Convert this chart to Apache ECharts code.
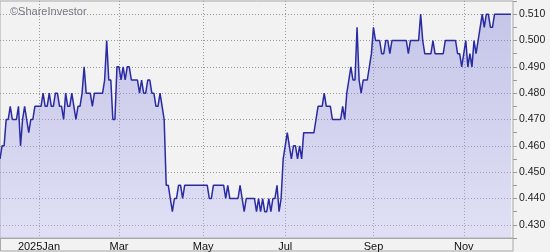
<!DOCTYPE html>
<html>
<head>
<meta charset="utf-8">
<script src="https://cdn.jsdelivr.net/npm/echarts@6/dist/echarts.min.js"></script>
<style>
html,body{margin:0;padding:0;background:#f2f2f2;}
#c{width:550px;height:252px;}
</style>
</head>
<body>
<div id="c"></div>
<script>
// Daily closing prices (trading days)
const prices = [
0.455,0.460,0.460,0.470,0.470,0.475,0.470,0.470,0.470,0.475,
0.460,0.470,0.475,0.470,0.465,0.470,0.470,0.475,0.475,0.475,
0.475,0.480,0.475,0.475,0.480,0.475,0.475,0.480,0.480,0.475,
0.475,0.470,0.480,0.475,0.475,0.480,0.475,0.470,0.475,0.475,
0.480,0.490,0.480,0.480,0.480,0.475,0.480,0.480,0.480,0.480,
0.480,0.485,0.500,0.485,0.485,0.470,0.470,0.490,0.490,0.485,
0.490,0.485,0.490,0.490,0.485,0.485,0.485,0.485,0.480,0.485,
0.480,0.480,0.485,0.485,0.480,0.480,0.475,0.475,0.480,0.475,
0.470,0.445,0.445,0.440,0.435,0.440,0.440,0.445,0.445,0.440,
0.445,0.445,0.445,0.445,0.445,0.445,0.445,0.445,0.445,0.445,
0.445,0.445,0.440,0.440,0.445,0.445,0.445,0.445,0.445,0.445,
0.440,0.445,0.440,0.440,0.440,0.440,0.440,0.445,0.440,0.435,
0.440,0.440,0.440,0.440,0.440,0.435,0.440,0.435,0.440,0.435,
0.435,0.440,0.435,0.440,0.440,0.445,0.435,0.440,0.455,0.460,
0.465,0.460,0.455,0.460,0.460,0.455,0.460,0.455,0.465,0.465,
0.465,0.465,0.465,0.465,0.470,0.475,0.475,0.475,0.480,0.475,
0.475,0.475,0.470,0.470,0.470,0.470,0.470,0.475,0.470,0.480,
0.485,0.490,0.485,0.485,0.505,0.485,0.480,0.485,0.485,0.485,
0.490,0.495,0.505,0.500,0.500,0.500,0.495,0.495,0.500,0.500,
0.495,0.500,0.500,0.500,0.500,0.500,0.500,0.500,0.500,0.495,
0.500,0.500,0.500,0.500,0.500,0.510,0.500,0.495,0.495,0.495,
0.495,0.500,0.495,0.495,0.495,0.495,0.495,0.500,0.500,0.500,
0.500,0.500,0.500,0.495,0.495,0.490,0.495,0.500,0.490,0.495,
0.490,0.500,0.495,0.500,0.505,0.510,0.505,0.510,0.510,0.505,
0.505,0.510,0.510,0.510,0.510,0.510,0.510,0.510,0.510,0.510
];
// Month tick labels and the trading-day index where each month starts
const monthLabels = ['2025Jan','Mar','May','Jul','Sep','Nov'];
const monthIndex = [19, 58, 99, 139, 182, 226];

// category list (one extra empty slot at the end)
const categories = [];
for (let i = 0; i <= prices.length; i++) {
  const k = monthIndex.indexOf(i);
  categories.push(k >= 0 ? monthLabels[k] : '');
}
const isMonth = (idx) => monthIndex.indexOf(idx) >= 0;

const chart = echarts.init(document.getElementById('c'), null, {renderer:'canvas'});
const font = 'Liberation Sans, Arial, sans-serif';
chart.setOption({
  animation: false,
  backgroundColor: '#f2f2f2',
  title: {
    text: '©ShareInvestor',
    left: 5, top: 1,
    textStyle: {fontSize: 11, fontWeight: 'normal', color: '#777785', fontFamily: font}
  },
  grid: {
    left: 0, right: 37, top: 1, bottom: 13.5,
    show: true, borderColor: '#a8a8a8', borderWidth: 1, backgroundColor: 'transparent'
  },
  graphic: [{
    type: 'rect', silent: true,
    shape: {x: 0.5, y: 238.5, width: 512.5, height: 12.5},
    style: {fill: 'none', stroke: '#a8a8a8', lineWidth: 1}
  }],
  xAxis: {
    type: 'category',
    data: categories,
    boundaryGap: false,
    axisLine: {show: true, lineStyle: {color: '#a8a8a8'}},
    axisTick: {show: false},
    axisLabel: {
      interval: (idx) => isMonth(idx),
      fontSize: 11, color: '#111', fontFamily: font, margin: 3
    },
    splitLine: {
      show: true,
      interval: (idx) => isMonth(idx),
      lineStyle: {color: '#999', type: [1, 2], width: 1}
    }
  },
  yAxis: {
    type: 'value',
    position: 'right',
    min: 0.425, max: 0.515, interval: 0.005,
    axisLine: {show: false},
    axisTick: {show: true, length: 4, lineStyle: {color: '#999'}},
    axisLabel: {
      margin: 6, fontSize: 10.5, color: '#222', fontFamily: font,
      formatter: (v) => (Math.round(v * 1000) % 10 === 0) ? v.toFixed(3) : ''
    },
    splitLine: {
      show: true,
      lineStyle: {color: ['rgba(0,0,0,0)', '#999'], type: [1, 2], width: 1}
    }
  },
  series: [{
    type: 'line',
    data: prices,
    symbol: 'none',
    lineStyle: {color: '#2a2aa2', width: 1.5},
    areaStyle: {
      color: new echarts.graphic.LinearGradient(0, 0, 0, 1, [
        {offset: 0, color: 'rgba(120,120,215,0.52)'},
        {offset: 1, color: 'rgba(190,190,250,0.5)'}
      ])
    }
  }]
});
</script>
</body>
</html>
